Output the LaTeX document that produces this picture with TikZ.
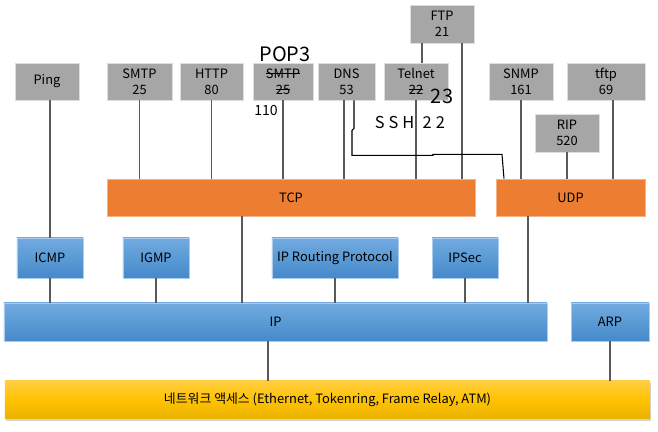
\documentclass[tikz,border=0pt]{standalone}
\usepackage{fontspec}
\setmainfont{Noto Sans CJK KR}
\usepackage{tikz}
\usetikzlibrary{shadows}
\definecolor{boxGray}{RGB}{166,166,166}
\definecolor{boxEdge}{RGB}{222,222,222}
\definecolor{tcpOrange}{RGB}{237,125,49}
\definecolor{ipBlueTop}{RGB}{114,170,224}
\definecolor{ipBlueMid}{RGB}{91,155,213}
\definecolor{ipBlueBot}{RGB}{70,136,202}
\definecolor{ipBlueEdge}{RGB}{170,205,238}
\definecolor{netGoldTop}{RGB}{255,206,64}
\definecolor{netGoldMid}{RGB}{255,194,0}
\definecolor{netGoldBot}{RGB}{232,178,0}
\definecolor{linkGray}{RGB}{90,90,90}

% strike-through text
\newsavebox\strkbox
\newcommand\strk[1]{\sbox\strkbox{#1}\rlap{\rule[0.33em]{\wd\strkbox}{0.9pt}}\usebox\strkbox}

\tikzset{
  appbox/.style={fill=boxGray, draw=boxEdge, line width=0.6pt, minimum height=1.11cm,
    inner sep=0pt, align=center, font=\fontsize{11}{13.5}\selectfont},
  tpbox/.style={fill=tcpOrange, draw=tcpOrange!60!white, line width=0.6pt, minimum height=1.11cm,
    inner sep=0pt, font=\fontsize{11}{13.5}\selectfont},
  ipbox/.style={top color=ipBlueTop, bottom color=ipBlueBot, middle color=ipBlueMid,
    draw=ipBlueEdge, line width=0.6pt, minimum height=1.2cm, inner sep=0pt,
    font=\fontsize{11}{13.5}\selectfont},
  netbox/.style={top color=netGoldTop, bottom color=netGoldBot, middle color=netGoldMid,
    minimum height=1.14cm, inner sep=0pt, font=\fontsize{11}{13.5}\selectfont,
    drop shadow={opacity=0.35, shadow xshift=0.04cm, shadow yshift=-0.06cm}},
  link/.style={draw=linkGray, line width=0.9pt},
  handline/.style={draw=black, line width=0.9pt},
  hand/.style={inner sep=0pt, text=black}
}

\begin{document}
\begin{tikzpicture}[x=0.03cm, y=-0.03cm]
\useasboundingbox (0,0) rectangle (658,432);

% application layer
\node[appbox, minimum width=1.92cm] (ping) at (47,81.5) {Ping};
\node[appbox, minimum width=1.95cm] (smtp) at (139.5,81.5) {SMTP\\25};
\node[appbox, minimum width=1.89cm] (http) at (211.5,81.5) {HTTP\\80};
\node[appbox, minimum width=1.80cm] (popbox) at (283,81.5) {\strk{SMTP}\\\strk{25}};
\node[appbox, minimum width=1.71cm] (dns) at (346.5,81.5) {DNS\\53};
\node[appbox, minimum width=1.92cm] (telnet) at (416,81.5) {Telnet\\\strk{22}\hspace{0.9em}};
\node[appbox, minimum width=1.92cm, minimum height=1.14cm] (ftp) at (442,24) {FTP\\21};
\node[appbox, minimum width=1.92cm] (snmp) at (521,81.5) {SNMP\\161};
\node[appbox, minimum width=2.34cm] (tftp) at (606,81.5) {tftp\\69};
\node[appbox, minimum width=1.92cm, minimum height=1.14cm] (rip) at (567,133) {RIP\\520};

% transport layer
\node[tpbox, minimum width=11.04cm] (tcp) at (291,197.5) {TCP};
\node[tpbox, minimum width=4.47cm] (udp) at (570.5,197.5) {UDP};

% internet layer
\node[ipbox, minimum width=1.98cm] (icmp) at (50,258) {ICMP};
\node[ipbox, minimum width=1.98cm] (igmp) at (156,258) {IGMP};
\node[ipbox, minimum width=3.78cm] (iprout) at (335,258) {IP Routing Protocol};
\node[ipbox, minimum width=1.98cm] (ipsec) at (465,258) {IPSec};
\node[ipbox, minimum width=16.29cm, minimum height=1.14cm] (ip) at (275.5,322) {IP};
\node[ipbox, minimum width=2.34cm, minimum height=1.14cm] (arp) at (610,322) {ARP};

% network access
\node[netbox, minimum width=19.35cm] (net) at (327.5,400)
  {네트워크 액세스 (Ethernet, Tokenring, Frame Relay, ATM)};

% connectors
\draw[link] (icmp.north) -- (icmp.north |- ping.south);
\draw[link] (smtp.south) -- (smtp.south |- tcp.north);
\draw[link] (http.south) -- (http.south |- tcp.north);
\draw[link] (popbox.south) -- (popbox.south |- tcp.north);
\draw[link] ([xshift=-0.075cm]dns.south) -- ([xshift=-0.075cm]dns.south |- tcp.north);
\draw[link] (telnet.south) -- (telnet.south |- tcp.north);
\draw[link] ([xshift=-0.6cm]ftp.south) -- ([xshift=-0.6cm]ftp.south |- telnet.north);
\draw[link] ([xshift=0.6cm]ftp.south) -- ([xshift=0.6cm]ftp.south |- tcp.north);
\draw[link] (snmp.south) -- (snmp.south |- udp.north);
\draw[link] (rip.south) -- (rip.south |- udp.north);
\draw[link] ([xshift=0.21cm]tftp.south) -- ([xshift=0.21cm]tftp.south |- udp.north);
\draw[link] ([xshift=-1.47cm]tcp.south) -- ([xshift=-1.47cm]tcp.south |- ip.north);
\draw[link] ([xshift=-1.275cm]udp.south) -- ([xshift=-1.275cm]udp.south |- ip.north);
\draw[link] (icmp.south) -- (icmp.south |- ip.north);
\draw[link] (igmp.south) -- (igmp.south |- ip.north);
\draw[link] (iprout.south) -- (iprout.south |- ip.north);
\draw[link] (ipsec.south) -- (ipsec.south |- ip.north);
\draw[link] ([xshift=-0.225cm]ip.south) -- ([xshift=-0.225cm]ip.south |- net.north);
\draw[link] (arp.south) -- (arp.south |- net.north);

% hand-written notes
\draw[handline] ([xshift=0.225cm]dns.south) -- ++(0,28) -- ++(-2,2) -- ++(0,25)
  -- ++(81,0) -- ++(0,-1) -- ++(69,0) -- ([xshift=-1.995cm]udp.north);
\node[hand, font=\fontsize{17}{17}\selectfont] (popnote) at (285,54) {POP3};
\node[hand, font=\fontsize{12}{12}\selectfont] (portnote) at (266,110) {110};
\node[hand, font=\fontsize{17}{17}\selectfont] (telnetnote) at (442,96) {23};
\node[hand, font=\fontsize{14}{14}\selectfont\addfontfeature{LetterSpace=25}] (sshnote) at (410,122)
  {SSH\hspace{0.25cm}22};
\end{tikzpicture}
\end{document}
